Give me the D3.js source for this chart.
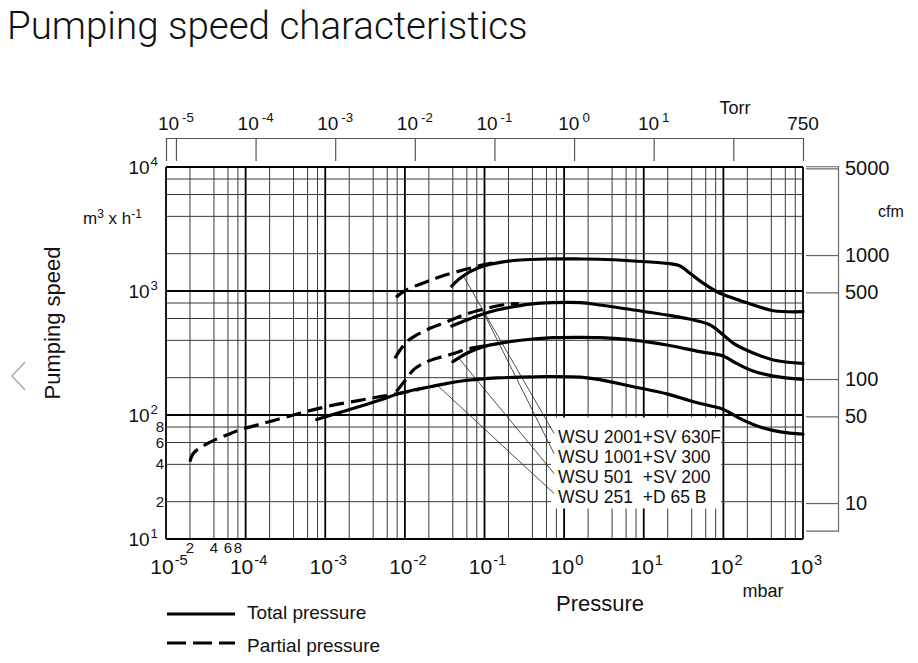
<!doctype html>
<html>
<head>
<style>
  body { margin: 0; background: #fff; }
  text { font-family: "Liberation Sans", Arial, Helvetica, sans-serif; fill: #111; }
</style>
<script src="https://cdn.jsdelivr.net/npm/d3@7/dist/d3.min.js"></script>
</head>
<body>
<svg width="918" height="663"></svg>
<script>

// ---- data (pressure in mbar, speed in m3/h) ----
var pressureDecades = [-5, -4, -3, -2, -1, 0, 1, 2, 3];
var speedDecades = [1, 2, 3, 4];
var gridSteps = [1, 2, 4, 6, 8];
var torrTicks = [1e-5, 1e-4, 1e-3, 1e-2, 1e-1, 1, 10, 100];
var torrLabelExp = [-5, -4, -3, -2, -1, 0, 1];
var torrEnd = 750;
var cfmTicks = [10, 50, 100, 500, 1000, 5000];
var leftMinor = [20, 40, 60, 80];
var bottomMinor = [2e-5, 4e-5, 6e-5, 8e-5];

var wsu2001Total = [[0.0388,1096],[0.0493,1265],[0.066,1431],[0.097,1592],[0.157,1703],[0.28,1778],[0.6,1812],[1.6,1812],[2.8,1803],[7.4,1746],[19.5,1672],[28.6,1591],[38,1390],[56,1154],[83,987],[134,873],[239,771],[426,693],[1000,681]];
var wsu2001Partial = [[0.00775,889],[0.0096,987],[0.0128,1083],[0.0188,1189],[0.0277,1304],[0.045,1431],[0.073,1553],[0.107,1651],[0.15,1700]];
var wsu1001Total = [[0.0388,522],[0.06,584],[0.088,640],[0.143,703],[0.231,747],[0.374,785],[0.73,805],[1.6,805],[2.8,771],[7.4,703],[19.5,640],[42,584],[68,532],[100,442],[134,378],[217,324],[426,278],[1000,261]];
var wsu1001Partial = [[0.0075,287],[0.0087,334],[0.0106,390],[0.0141,442],[0.0207,500],[0.0336,565],[0.054,640],[0.088,703],[0.143,757],[0.21,786],[0.27,790]];
var wsu501Total = [[0.04,269],[0.06,315],[0.097,356],[0.173,383],[0.374,408],[0.73,420],[1.6,423],[2.8,420],[7.4,402],[19.5,367],[51,324],[100,299],[134,269],[217,231],[426,206],[1000,194]];
var wsu501Partial = [[0.0078,154],[0.0106,198],[0.0128,231],[0.0171,261],[0.0252,287],[0.039,310],[0.06,339],[0.088,356],[0.117,367]];
var wsu251Total = [[0.00078,92],[0.0049,132],[0.0079,147],[0.0128,159],[0.0207,169],[0.034,180],[0.054,189],[0.088,195],[0.143,199],[0.23,201],[0.6,204],[1.6,202],[2.8,193],[7.4,169],[19.5,148],[42,128],[75,117],[100,111],[160,94],[290,80],[520,73],[1000,70]];
var wsu251Partial = [[2e-5,42],[2.2e-5,49],[2.9e-5,56],[4.1e-5,63],[5.8e-5,69],[8.5e-5,76],[1.4e-4,83],[2.2e-4,90],[4e-4,100],[7e-4,110],[0.00126,120],[0.0025,130],[0.0044,139],[0.0079,148],[0.015,161]];

var modelNames = ["WSU 2001", "WSU 1001", "WSU 501", "WSU 251"];
var pumpNames = ["+SV 630F", "+SV 300", "+SV 200", "+D 65 B"];
var leaderFrom = [[0.055,1300],[0.095,690],[0.047,290],[0.026,172]];

var svg = d3.select("svg");

var x = d3.scaleLog().domain([1e-5, 1e3]).range([166, 803]);
var y = d3.scaleLog().domain([10, 1e4]).range([539, 167]);
var mbarPerTorr = 1.33322;
var xTorr = d3.scaleLog().domain([1e-5 / mbarPerTorr, 1e3 / mbarPerTorr]).range([166, 803]);
// the sheet's cfm scale sits about a factor 1.95 below the m3/h scale
var cfmFactor = 1.95;
var cfm = d3.scaleLog().domain([6, 5200]).range([y(6 * cfmFactor), y(5200 * cfmFactor)]);

// title
svg.append("text")
   .attr("x", 7).attr("y", 39)
   .attr("font-size", 38.5)
   .style("font-family", "Roboto, 'Liberation Sans', Arial, sans-serif")
   .style("font-weight", 300)
   .text("Pumping speed characteristics");

// little gray chevron on the left of the page
svg.append("path")
   .attr("d", "M25,362 L12,376 L25,390")
   .attr("fill", "none").attr("stroke", "#aaa").attr("stroke-width", 1.5);

// ---- grid ----
var vGrid = [], hGrid = [];
pressureDecades.forEach(function(e) {
    gridSteps.forEach(function(m) {
        var v = m * Math.pow(10, e);
        if (v <= 1000.01) vGrid.push({v: v, major: m === 1});
    });
});
speedDecades.forEach(function(e) {
    gridSteps.forEach(function(m) {
        var v = m * Math.pow(10, e);
        if (v <= 10000.1) hGrid.push({v: v, major: m === 1});
    });
});

var grid = svg.append("g");
grid.selectAll(".vg").data(vGrid).enter().append("line")
    .attr("x1", function(d) { return x(d.v); })
    .attr("x2", function(d) { return x(d.v); })
    .attr("y1", y(1e4)).attr("y2", y(10))
    .attr("stroke", function(d) { return d.major ? "#000" : "#3a3a3a"; })
    .attr("stroke-width", function(d) { return d.major ? 1.8 : 1; });
grid.selectAll(".hg").data(hGrid).enter().append("line")
    .attr("y1", function(d) { return y(d.v); })
    .attr("y2", function(d) { return y(d.v); })
    .attr("x1", x(1e-5)).attr("x2", x(1e3))
    .attr("stroke", function(d) { return d.major ? "#000" : "#3a3a3a"; })
    .attr("stroke-width", function(d) { return d.major ? 1.8 : 1; });

// ---- label box with model names ----
var labelP = 0.84, pumpP = 10, labelS = 60, lineGap = 20;
var lx = x(labelP), ly = y(labelS);

svg.append("rect")
   .attr("x", lx - 7).attr("y", ly - 25)
   .attr("width", 170).attr("height", 91)
   .attr("fill", "#fff");

svg.selectAll(".leader").data(leaderFrom).enter().append("line")
   .attr("x1", function(d) { return x(d[0]); })
   .attr("y1", function(d) { return y(d[1]); })
   .attr("x2", lx - 4)
   .attr("y2", function(d, i) { return ly + i * lineGap - 9; })
   .attr("stroke", "#222").attr("stroke-width", 0.8);

svg.selectAll(".model").data(modelNames).enter().append("text")
   .attr("x", lx)
   .attr("y", function(d, i) { return ly + i * lineGap; })
   .attr("font-size", 17.5)
   .text(function(d) { return d; });
svg.selectAll(".pump").data(pumpNames).enter().append("text")
   .attr("x", x(pumpP) - 1)
   .attr("y", function(d, i) { return ly + i * lineGap; })
   .attr("font-size", 17.5)
   .text(function(d) { return d; });

// ---- curves ----
var line = d3.line()
    .x(function(d) { return x(d[0]); })
    .y(function(d) { return y(d[1]); })
    .curve(d3.curveCatmullRom.alpha(0.5));

var totals = [wsu2001Total, wsu1001Total, wsu501Total, wsu251Total];
var partials = [wsu2001Partial, wsu1001Partial, wsu501Partial, wsu251Partial];

svg.selectAll(".total").data(totals).enter().append("path")
   .attr("d", line)
   .attr("fill", "none").attr("stroke", "#000")
   .attr("stroke-width", 3.2).attr("stroke-linecap", "round");
svg.selectAll(".partial").data(partials).enter().append("path")
   .attr("d", line)
   .attr("fill", "none").attr("stroke", "#000")
   .attr("stroke-width", 3.2).attr("stroke-dasharray", "15,7");

// ---- top axis (Torr) ----
var topAxis = svg.append("g")
    .attr("transform", "translate(0,138)")
    .call(d3.axisTop(xTorr).tickValues(torrTicks).tickSize(-23).tickFormat(""));
topAxis.selectAll("line,path").attr("stroke", "#555").attr("stroke-width", 1.2);

function pow10(px, py, exp, size, anchor, gap) {
    var t = svg.append("text")
        .attr("x", px).attr("y", py)
        .attr("font-size", size)
        .attr("text-anchor", anchor);
    t.append("tspan").text("10");
    t.append("tspan")
        .attr("font-size", size * 0.7)
        .attr("dx", gap)
        .attr("dy", -size * 0.42)
        .text(exp);
    return t;
}

torrLabelExp.forEach(function(e) {
    pow10(xTorr(Math.pow(10, e)), 130, e, 19, "middle", 3);
});
svg.append("text").attr("x", xTorr(torrEnd)).attr("y", 130)
   .attr("font-size", 19).attr("text-anchor", "middle").text(torrEnd);
svg.append("text").attr("x", 735).attr("y", 114)
   .attr("font-size", 18).attr("text-anchor", "middle").text("Torr");

// ---- right axis (cfm) ----
var rightAxis = svg.append("g")
    .attr("transform", "translate(838,0)")
    .call(d3.axisLeft(cfm).tickValues(cfmTicks).tickSize(32).tickFormat(""));
rightAxis.selectAll("line,path").attr("stroke", "#666").attr("stroke-width", 1.2);
svg.selectAll(".cfm").data(cfmTicks).enter().append("text")
   .attr("x", 845)
   .attr("y", function(d) { return cfm(d) + 7; })
   .attr("font-size", 20)
   .text(function(d) { return d; });
svg.append("text").attr("x", 878).attr("y", 217)
   .attr("font-size", 16).text("cfm");

// ---- left axis ----
speedDecades.forEach(function(e) {
    pow10(158, y(Math.pow(10, e)) + 7, e, 19, "end", 1);
});
svg.selectAll(".lminor").data(leftMinor).enter().append("text")
   .attr("x", 164)
   .attr("y", function(d) { return y(d) + 5; })
   .attr("font-size", 15).attr("text-anchor", "end")
   .text(function(d) { return d / 10; });

var unit = svg.append("text").attr("x", 83).attr("y", 224).attr("font-size", 17);
unit.append("tspan").text("m");
unit.append("tspan").attr("font-size", 12).attr("dy", -6).text("3");
unit.append("tspan").attr("dy", 6).text(" x h");
unit.append("tspan").attr("font-size", 12).attr("dy", -6).text("-1");

svg.append("text")
   .attr("transform", "translate(60,323) rotate(-90)")
   .attr("font-size", 22).attr("text-anchor", "middle")
   .text("Pumping speed");

// ---- bottom axis ----
pressureDecades.forEach(function(e) {
    pow10(x(Math.pow(10, e)) + 3, 574, e, 21, "middle", 1);
});
svg.selectAll(".bminor").data(bottomMinor).enter().append("text")
   .attr("x", function(d) { return x(d); })
   .attr("y", 553)
   .attr("font-size", 15).attr("text-anchor", "middle")
   .text(function(d) { return Math.round(d * 1e5); });

svg.append("text").attr("x", 600).attr("y", 611)
   .attr("font-size", 22).attr("text-anchor", "middle").text("Pressure");
svg.append("text").attr("x", 763).attr("y", 597)
   .attr("font-size", 18).attr("text-anchor", "middle").text("mbar");

// ---- legend ----
var legend = svg.append("g");
legend.append("line").attr("x1", 167).attr("x2", 235).attr("y1", 614).attr("y2", 614)
      .attr("stroke", "#000").attr("stroke-width", 3.2);
legend.append("line").attr("x1", 167).attr("x2", 235).attr("y1", 643).attr("y2", 643)
      .attr("stroke", "#000").attr("stroke-width", 3.2).attr("stroke-dasharray", "19,7");
legend.append("text").attr("x", 247).attr("y", 619).attr("font-size", 19).text("Total pressure");
legend.append("text").attr("x", 247).attr("y", 652).attr("font-size", 19).text("Partial pressure");

</script>
</body>
</html>
